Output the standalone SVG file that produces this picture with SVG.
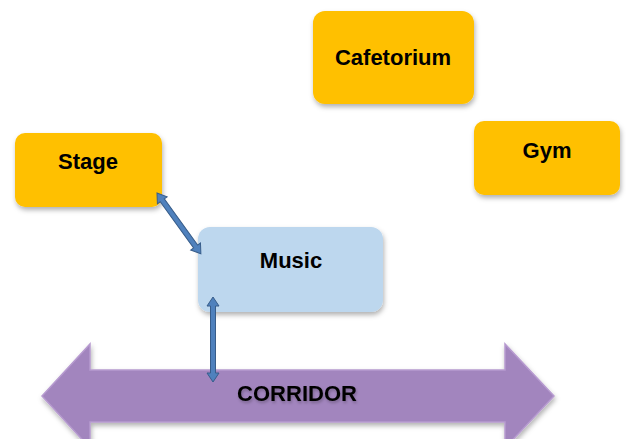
<svg xmlns="http://www.w3.org/2000/svg" width="626" height="439" viewBox="0 0 626 439">
<defs>
<filter id="sh" x="-20%" y="-20%" width="140%" height="150%">
<feDropShadow dx="1" dy="3" stdDeviation="2.5" flood-color="#000" flood-opacity="0.3"/>
</filter>
<filter id="tsh" x="-10%" y="-30%" width="120%" height="160%">
<feDropShadow dx="1" dy="2" stdDeviation="1.5" flood-color="#000" flood-opacity="0.25"/>
</filter>
<style>
.box{fill:#ffc000;filter:url(#sh)}
.music{fill:#bdd7ee;filter:url(#sh)}
.lbl{font-family:"Liberation Sans",Arial,sans-serif;font-weight:bold;font-size:22px;fill:#000;text-anchor:middle}
.conn{fill:#4f81bd;stroke:#385d8a;stroke-width:1}
</style>
</defs>
<rect width="626" height="439" fill="#fff"/>
<g id="corridor">
<polygon points="42,396 90,344 90,370 505,370 505,344 554,396 505,448 505,422 90,422 90,448" fill="#a285be" stroke="#b79bd0" stroke-width="1.5" filter="url(#sh)"/>
<text class="lbl" x="297" y="401" filter="url(#tsh)">CORRIDOR</text>
</g>
<g id="cafetorium">
<rect class="box" x="313" y="11" width="161" height="93" rx="12"/>
<text class="lbl" x="393" y="65">Cafetorium</text>
</g>
<g id="stage">
<rect class="box" x="15" y="133" width="147" height="74" rx="10"/>
<text class="lbl" x="88" y="169">Stage</text>
</g>
<g id="gym">
<rect class="box" x="474" y="121" width="146" height="74" rx="10"/>
<text class="lbl" x="547" y="158">Gym</text>
</g>
<g id="music">
<rect class="music" x="198" y="227" width="185" height="85" rx="12"/>
<text class="lbl" x="291" y="268">Music</text>
</g>
<g id="connectors">
<polygon class="conn" transform="translate(157,193) rotate(54.2)" points="0,0 9,-6 9,-2.5 66,-2.5 66,-6 75,0 66,6 66,2.5 9,2.5 9,6"/>
<polygon class="conn" transform="translate(213,297) rotate(90)" points="0,0 9,-6 9,-2.5 76,-2.5 76,-6 85,0 76,6 76,2.5 9,2.5 9,6"/>
</g>
</svg>
